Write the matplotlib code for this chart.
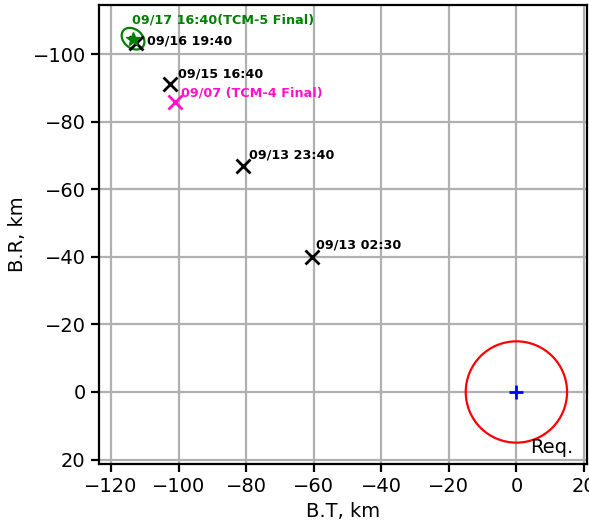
import matplotlib

matplotlib.use("Agg")
import matplotlib.pyplot as plt
from matplotlib.patches import Circle, Ellipse

# B-plane points (km)
labels = ["09/13 02:30", "09/13 23:40", "09/15 16:40", "09/16 19:40"]
bt = [-60.5, -81.0, -102.5, -112.5]
br = [-40.0, -66.8, -91.3, -103.3]
label_dx = [1.3, 1.7, 2.3, 3.0]
label_dy = [-3.5, -3.3, -2.7, -0.6]

tcm4_label = "09/07 (TCM-4 Final)"
tcm4_bt, tcm4_br = -101.2, -85.8

tcm5_label = "09/17 16:40(TCM-5 Final)"
tcm5_bt, tcm5_br = -113.5, -104.6
tcm5_ell_w, tcm5_ell_h, tcm5_ell_ang = 7.5, 5.5, 40.0

req_radius = 15.0

fig = plt.figure(figsize=(5.89, 5.26), dpi=100)
ax = fig.add_axes([0.166, 0.118, 0.832, 0.872])

ax.grid(True, color="#b0b0b0", linewidth=1.6)
ax.set_axisbelow(True)

for x, y, lab, dx, dy in zip(bt, br, labels, label_dx, label_dy):
    ax.plot(x, y, "x", color="black", markersize=10, markeredgewidth=2)
    ax.text(x + dx, y + dy, lab, fontsize=9.2, fontweight="bold", color="black",
            ha="left", va="center")

ax.plot(tcm4_bt, tcm4_br, "x", color="#ff11cc", markersize=10, markeredgewidth=2)
ax.text(tcm4_bt + 2.0, tcm4_br - 2.8, tcm4_label, fontsize=9.2, fontweight="bold",
        color="#ff11cc", ha="left", va="center")

ax.plot(tcm5_bt, tcm5_br, "*", color="green", markersize=10, zorder=2)
ax.add_patch(Ellipse((tcm5_bt, tcm5_br), tcm5_ell_w, tcm5_ell_h, angle=tcm5_ell_ang,
                     fill=False, edgecolor="green", linewidth=1.6))
ax.text(tcm5_bt - 0.4, tcm5_br - 5.5, tcm5_label, fontsize=9.2, fontweight="bold",
        color="green", ha="left", va="center")

ax.add_patch(Circle((0, 0), req_radius, fill=False, edgecolor="red", linewidth=1.6))
ax.plot(0, 0, "+", color="blue", markersize=10, markeredgewidth=2)
ax.text(4.2, 16.5, "Req.", fontsize=14, ha="left", va="center")

ax.set_xlim(-123.6, 20.8)
ax.set_ylim(21.3, -114.5)
ax.set_aspect("equal")
ax.set_xticks(range(-120, 21, 20))
ax.set_yticks(range(-100, 21, 20))
ax.tick_params(labelsize=14, width=1.6, length=6)
for s in ax.spines.values():
    s.set_linewidth(1.6)
ax.set_xlabel("B.T, km", fontsize=14)
ax.set_ylabel("B.R, km", fontsize=14)

fig.savefig("out.png", dpi=100)
